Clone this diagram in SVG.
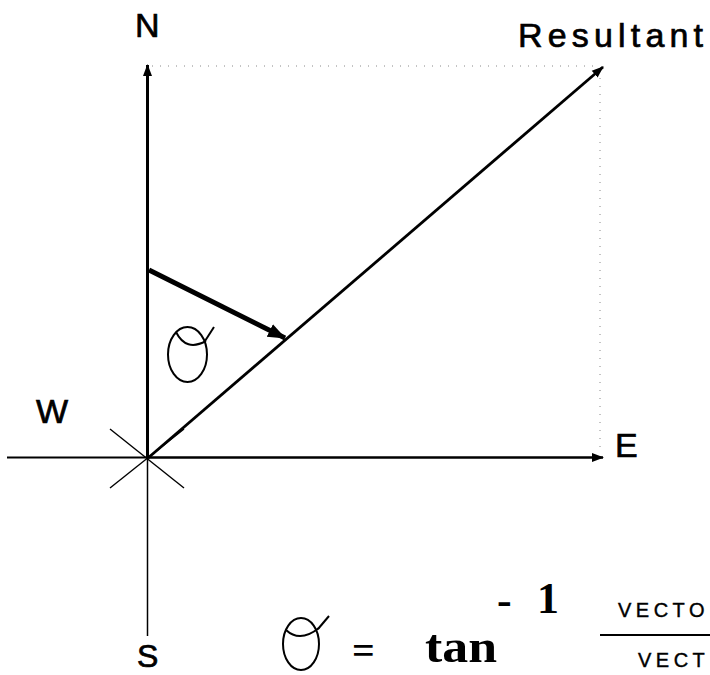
<svg xmlns="http://www.w3.org/2000/svg" width="710" height="675" viewBox="0 0 710 675">
<style>
.lbl{font-family:"Liberation Sans",Arial,sans-serif;font-size:34px;fill:#000;stroke:#000;stroke-width:0.7}
.ser{font-family:"Liberation Serif","Times New Roman",serif;font-weight:bold;fill:#000}
.small{font-family:"Liberation Sans",Arial,sans-serif;font-size:20px;letter-spacing:4.5px;fill:#000;stroke:#000;stroke-width:0.4}
.dot{stroke:#888;stroke-width:1;stroke-dasharray:1 7;fill:none}
.hand{fill:none;stroke:#000;stroke-width:2}
</style>
<defs>
<marker id="ah" markerUnits="userSpaceOnUse" markerWidth="12" markerHeight="12" viewBox="0 0 12 12" refX="11" refY="6" orient="auto">
<path d="M0,1.5 L12,6 L0,10.5 z" fill="#000"/>
</marker>
<marker id="ahBig" markerUnits="userSpaceOnUse" markerWidth="18" markerHeight="16" viewBox="0 0 18 16" refX="17" refY="8" orient="auto">
<path d="M0,1 L18,8 L0,15 z" fill="#000"/>
</marker>
</defs>

<g id="guides">
<line class="dot" x1="152" y1="66" x2="598" y2="66"/>
<line class="dot" x1="600" y1="70" x2="600" y2="450"/>
</g>

<g id="connectors">
<line id="west-axis" x1="7" y1="457.5" x2="148" y2="457.5" stroke="#000" stroke-width="2"/>
<line id="east-axis" x1="148" y1="457.5" x2="603" y2="457.5" stroke="#000" stroke-width="2.6" marker-end="url(#ah)"/>
<line id="north-axis" x1="147.5" y1="458" x2="147.5" y2="65" stroke="#000" stroke-width="3" marker-end="url(#ah)"/>
<line id="south-axis" x1="147.5" y1="458" x2="147.5" y2="636" stroke="#000" stroke-width="1.5"/>
<line id="resultant" x1="148" y1="458" x2="603" y2="67" stroke="#000" stroke-width="2.8" marker-end="url(#ah)"/>
<line id="star1" x1="110" y1="429" x2="184" y2="488" stroke="#000" stroke-width="1.4"/>
<line id="star2" x1="110" y1="488" x2="184" y2="429" stroke="#000" stroke-width="1.4"/>
<line id="angle-arrow" x1="149" y1="270" x2="285" y2="338" stroke="#000" stroke-width="5" marker-end="url(#ahBig)"/>
</g>

<g id="theta-angle">
<ellipse class="hand" cx="187.5" cy="354.5" rx="19.5" ry="27.5"/>
<path class="hand" d="M176,332 Q186,352 206,341"/>
<path class="hand" d="M205,341 L214,327"/>
</g>

<g id="label-N"><text class="lbl" x="135" y="37">N</text></g>
<g id="label-Resultant"><text class="lbl" x="518" y="47" textLength="185" lengthAdjust="spacing">Resultant</text></g>
<g id="label-W"><text class="lbl" x="36" y="423">W</text></g>
<g id="label-E"><text class="lbl" x="615" y="457">E</text></g>
<g id="label-S"><text class="lbl" x="137" y="667" style="font-size:32px">S</text></g>

<g id="formula">
<ellipse class="hand" cx="301" cy="644" rx="18" ry="26"/>
<path class="hand" d="M286,630 Q300,643 319,628"/>
<path class="hand" d="M318,629 L329,616"/>
<text class="ser" x="352" y="664" font-size="40">=</text>
<text class="ser" x="425" y="662" font-size="46" textLength="72" lengthAdjust="spacingAndGlyphs">tan</text>
<text class="ser" x="497" y="615" font-size="44">-</text>
<text class="ser" x="537" y="613" font-size="44">1</text>
<text class="small" x="618" y="617">VECTO</text>
<line x1="600" y1="635" x2="710" y2="635" stroke="#000" stroke-width="2"/>
<text class="small" x="638" y="667">VECT</text>
</g>
</svg>
